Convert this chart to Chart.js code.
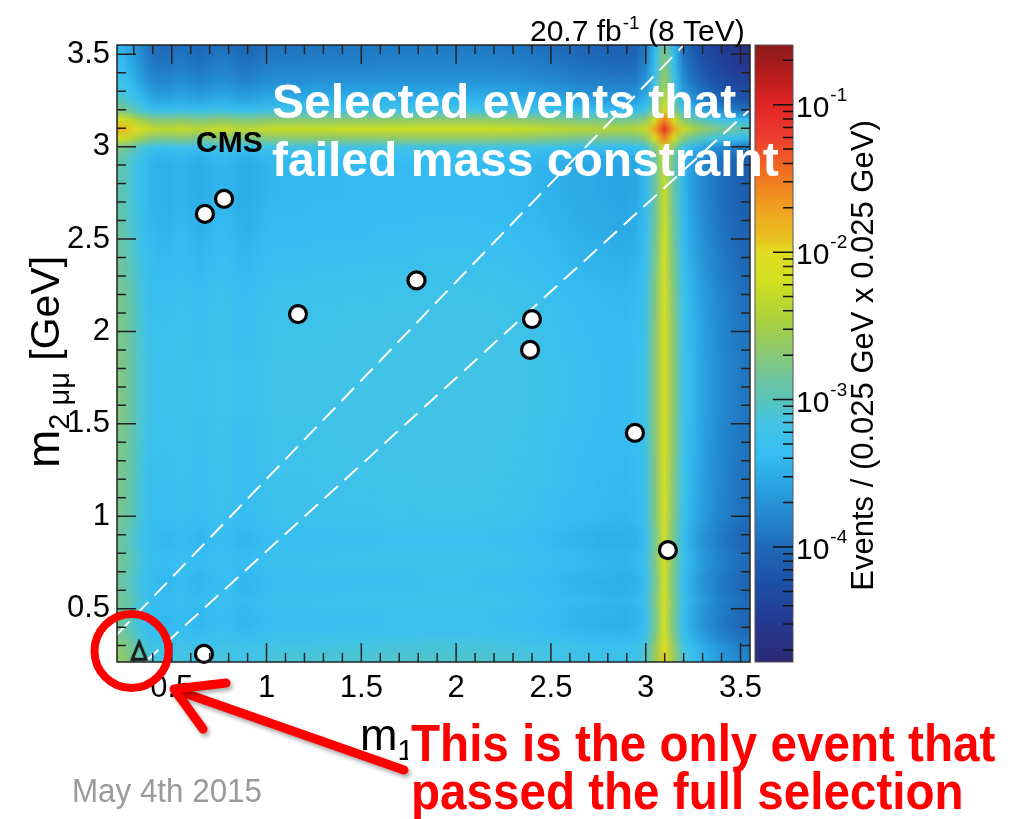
<!DOCTYPE html>
<html>
<head>
<meta charset="utf-8">
<script src="https://cdn.jsdelivr.net/npm/chart.js@4.4.1/dist/chart.umd.min.js"></script>
<style>
  html, body { margin: 0; padding: 0; background: #ffffff; }
  #wrap { position: relative; width: 1013px; height: 819px; }
</style>
</head>
<body>
<div id="wrap"><canvas id="c" width="1013" height="819"></canvas></div>
<script>
// ---- axis ranges and ticks (dimuon masses, GeV) ----
const massMin = 0.2113;
const massMax = 3.55;
const massTicks = [0.5, 1, 1.5, 2, 2.5, 3, 3.5];
const massMinorTicks = [];
for (let k = 3; k <= 35; k++) massMinorTicks.push(k / 10);

// ---- colour scale (events per bin) ----
const zMin = Math.pow(10, -4.78);
const zMax = Math.pow(10, -0.595);
const zMajorTicks = [1e-4, 1e-3, 1e-2, 1e-1];
const zMajorExponents = ['-4', '-3', '-2', '-1'];

// ---- background template, log10 of the 1D shape, 0.05 GeV bins ----
const binStart = 0.172;
const binWidth = 0.05;
// m1 (x) shape, bin centres 0.197 ... 3.547
const templateM1Log = [
  -1.10, -1.16, -1.32, -1.50, -1.64, -1.67, -1.66, -1.62, -1.66, -1.69,
  -1.65, -1.61, -1.62, -1.67, -1.69, -1.66, -1.62, -1.60, -1.60, -1.60,
  -1.60, -1.59, -1.59, -1.59, -1.58, -1.58, -1.58, -1.58, -1.57, -1.57,
  -1.57, -1.57, -1.56, -1.56, -1.56, -1.56, -1.56, -1.56, -1.56, -1.57,
  -1.57, -1.58, -1.59, -1.60, -1.61, -1.63, -1.65, -1.67, -1.69, -1.71,
  -1.72, -1.73, -1.74, -1.75, -1.75, -1.72, -1.58, -1.08, -0.45, -1.08,
  -1.60, -1.80, -1.94, -2.05, -2.14, -2.21, -2.27, -2.31
];
// m2 (y) shape, same binning
const templateM2Log = [
  -1.50, -1.52, -1.56, -1.66, -1.73, -1.74, -1.72, -1.69, -1.73, -1.75,
  -1.72, -1.69, -1.70, -1.74, -1.74, -1.71, -1.68, -1.67, -1.67, -1.66,
  -1.66, -1.65, -1.65, -1.64, -1.64, -1.63, -1.63, -1.62, -1.62, -1.62,
  -1.62, -1.62, -1.62, -1.62, -1.63, -1.63, -1.64, -1.64, -1.65, -1.66,
  -1.67, -1.68, -1.70, -1.72, -1.73, -1.75, -1.76, -1.78, -1.79, -1.80,
  -1.81, -1.82, -1.82, -1.82, -1.82, -1.78, -1.62, -1.08, -0.66, -1.08,
  -1.62, -1.86, -2.00, -2.10, -2.18, -2.24, -2.29, -2.33
];

// ---- selected events ----
const failedM1 = [0.675, 0.776, 1.166, 1.791, 2.400, 2.390, 2.943, 3.117, 0.670];
const failedM2 = [2.636, 2.717, 2.094, 2.276, 2.067, 1.900, 1.451, 0.817, 0.255];
const passedM1 = [0.328];
const passedM2 = [0.272];

// ---- signal corridor |m1 - m2| < 0.13 + 0.065 (m1 + m2)/2 ----
const corridorUpperM1 = [0.2113, 3.285];
const corridorUpperM2 = [0.360, 3.640];
const corridorLowerM1 = [0.360, 3.550];
const corridorLowerM2 = [0.2113, 3.2006];

// ---- colour palette (log10 of bin content -> colour) ----
const paletteLog = [-4.78, -4.5, -4.24, -4.0, -3.83, -3.56, -3.37, -3.15, -3.0, -2.9,
                    -2.7, -2.48, -2.2, -2.0, -1.9, -1.7, -1.46, -1.24, -1.0, -0.8, -0.595];
const paletteHex = ['#2b2a76', '#253a92', '#1c50a8', '#1e6ab8', '#2282ca', '#2aa6e4', '#36bef2',
                    '#44c4e4', '#58c4b8', '#68c4a8', '#88c878', '#a8d040', '#d0e020', '#e2dc20',
                    '#e8c020', '#f0a020', '#f07020', '#ee4030', '#e02424', '#b81c1c', '#8a1a1a'];

const FONT = "'Liberation Sans', Arial, Helvetica, sans-serif";

function hexRgb(h) {
  return [parseInt(h.slice(1, 3), 16), parseInt(h.slice(3, 5), 16), parseInt(h.slice(5, 7), 16)];
}
const paletteRgb = paletteHex.map(hexRgb);

function paletteColor(v) {
  if (v <= paletteLog[0]) return paletteRgb[0];
  const last = paletteLog.length - 1;
  if (v >= paletteLog[last]) return paletteRgb[last];
  for (let i = 0; i < last; i++) {
    if (v <= paletteLog[i + 1]) {
      const t = (v - paletteLog[i]) / (paletteLog[i + 1] - paletteLog[i]);
      const a = paletteRgb[i], b = paletteRgb[i + 1];
      return [a[0] + (b[0] - a[0]) * t, a[1] + (b[1] - a[1]) * t, a[2] + (b[2] - a[2]) * t];
    }
  }
  return paletteRgb[last];
}

// open triangle marker for the event passing the full selection
function triangleMarker() {
  const c = document.createElement('canvas');
  c.width = 20; c.height = 24;
  const g = c.getContext('2d');
  g.strokeStyle = '#1a1a1a';
  g.lineWidth = 3;
  g.lineJoin = 'miter';
  g.beginPath();
  g.moveTo(10, 3.5);
  g.lineTo(3, 20.5);
  g.lineTo(17, 20.5);
  g.closePath();
  g.stroke();
  return c;
}

// smooth 2D background drawn from the two 1D shapes
const heatmapPlugin = {
  id: 'heatmap',
  beforeDatasetsDraw(chart) {
    const { ctx, chartArea: a, scales: { x, y } } = chart;
    const n1 = templateM1Log.length, n2 = templateM2Log.length;
    const off = document.createElement('canvas');
    off.width = n1; off.height = n2;
    const octx = off.getContext('2d');
    const img = octx.createImageData(n1, n2);
    for (let r = 0; r < n2; r++) {
      const ly = templateM2Log[n2 - 1 - r];
      for (let i = 0; i < n1; i++) {
        const c = paletteColor(templateM1Log[i] + ly);
        const p = (r * n1 + i) * 4;
        img.data[p] = c[0]; img.data[p + 1] = c[1]; img.data[p + 2] = c[2]; img.data[p + 3] = 255;
      }
    }
    octx.putImageData(img, 0, 0);
    const x0 = x.getPixelForValue(binStart);
    const x1 = x.getPixelForValue(binStart + n1 * binWidth);
    const yT = y.getPixelForValue(binStart + n2 * binWidth);
    const yB = y.getPixelForValue(binStart);
    ctx.save();
    ctx.beginPath();
    ctx.rect(a.left, a.top, a.right - a.left, a.bottom - a.top);
    ctx.clip();
    ctx.imageSmoothingEnabled = true;
    ctx.drawImage(off, x0, yT, x1 - x0, yB - yT);
    ctx.restore();
  }
};

// frame, inward ticks, colour bar, titles and slide annotations
const decorPlugin = {
  id: 'decor',
  afterDatasetsDraw(chart) {
    const { ctx, chartArea: a, scales: { x, y, z } } = chart;
    ctx.save();
    // frame
    ctx.strokeStyle = '#222';
    ctx.lineWidth = 1.5;
    ctx.strokeRect(a.left, a.top, a.right - a.left, a.bottom - a.top);
    // inward ticks on all four sides
    ctx.lineWidth = 1.5;
    ctx.beginPath();
    massMinorTicks.forEach(v => {
      const major = massTicks.some(t => Math.abs(t - v) < 1e-6);
      const len = major ? 19 : 9;
      const px = x.getPixelForValue(v), py = y.getPixelForValue(v);
      ctx.moveTo(px, a.bottom); ctx.lineTo(px, a.bottom - len);
      ctx.moveTo(px, a.top); ctx.lineTo(px, a.top + len);
      ctx.moveTo(a.left, py); ctx.lineTo(a.left + len, py);
      ctx.moveTo(a.right, py); ctx.lineTo(a.right - len, py);
    });
    ctx.stroke();

    // colour bar
    const bx0 = a.right + 5, bx1 = a.right + 43;
    const grad = ctx.createLinearGradient(0, z.bottom, 0, z.top);
    paletteLog.forEach((lv, i) => {
      const t = (z.bottom - z.getPixelForValue(Math.pow(10, lv))) / (z.bottom - z.top);
      grad.addColorStop(Math.min(1, Math.max(0, t)), paletteHex[i]);
    });
    ctx.fillStyle = grad;
    ctx.fillRect(bx0, z.top, bx1 - bx0, z.bottom - z.top);
    ctx.strokeStyle = '#555';
    ctx.lineWidth = 1;
    ctx.strokeRect(bx0, z.top, bx1 - bx0, z.bottom - z.top);
    ctx.strokeStyle = '#111';
    ctx.lineWidth = 1.5;
    ctx.beginPath();
    for (let e = -5; e <= -1; e++) {
      for (let m = 1; m <= 9; m++) {
        const v = m * Math.pow(10, e);
        if (v < zMin || v > zMax) continue;
        const py = z.getPixelForValue(v);
        const len = m === 1 ? 20 : 10;
        ctx.moveTo(bx1, py); ctx.lineTo(bx1 - len, py);
      }
    }
    ctx.stroke();
    ctx.fillStyle = '#000';
    ctx.textBaseline = 'alphabetic';
    ctx.textAlign = 'left';
    zMajorTicks.forEach((v, i) => {
      const py = z.getPixelForValue(v);
      ctx.font = '30px ' + FONT;
      ctx.fillText('10', bx1 + 3, py + 12);
      const w = ctx.measureText('10').width;
      ctx.font = '19px ' + FONT;
      ctx.fillText(zMajorExponents[i], bx1 + 3 + w + 1, py - 4);
    });
    // colour bar title
    ctx.save();
    ctx.translate(873, (z.top + z.bottom) / 2 + 2);
    ctx.rotate(-Math.PI / 2);
    ctx.textAlign = 'center';
    ctx.font = '31px ' + FONT;
    ctx.fillText('Events / (0.025 GeV x 0.025 GeV)', 0, 0);
    ctx.restore();

    // y axis title  m_{2 mu mu} [GeV]
    ctx.save();
    ctx.translate(59, 362);
    ctx.rotate(-Math.PI / 2);
    const yParts = [['m', 46, 0], ['2 \u03bc\u03bc', 29, 10], [' [GeV]', 41, 0]];
    let total = 0;
    yParts.forEach(p => { ctx.font = p[1] + 'px ' + FONT; total += ctx.measureText(p[0]).width; });
    let cx = -total / 2;
    ctx.textAlign = 'left';
    yParts.forEach(p => {
      ctx.font = p[1] + 'px ' + FONT;
      ctx.fillText(p[0], cx, p[2]);
      cx += ctx.measureText(p[0]).width;
    });
    ctx.restore();

    // x axis title  m_{1 mu mu} [GeV]
    const xParts = [['m', 45, 0], ['1 \u03bc\u03bc', 29, 10], [' [GeV]', 43, 0]];
    let xx = 360;
    xParts.forEach(p => {
      ctx.font = p[1] + 'px ' + FONT;
      ctx.fillText(p[0], xx, 750 + p[2]);
      xx += ctx.measureText(p[0]).width;
    });

    // luminosity label
    ctx.font = '30px ' + FONT;
    let lx = 530;
    ctx.fillText('20.7 fb', lx, 41);
    lx += ctx.measureText('20.7 fb').width;
    ctx.font = '19px ' + FONT;
    ctx.fillText('-1', lx + 1, 29);
    lx += ctx.measureText('-1').width + 1;
    ctx.font = '30px ' + FONT;
    ctx.fillText(' (8 TeV)', lx, 41);

    // CMS label
    ctx.font = 'bold 30px ' + FONT;
    ctx.fillText('CMS', 196, 152);

    // white annotation
    ctx.fillStyle = '#ffffff';
    ctx.font = 'bold 48px ' + FONT;
    ctx.fillText('Selected events that', 272, 118);
    ctx.fillText('failed mass constraint', 272, 176);

    // red annotation box and text
    ctx.fillStyle = '#ffffff';
    ctx.fillRect(408, 712, 605, 107);
    ctx.fillStyle = '#fe0000';
    ctx.save();
    ctx.translate(411, 0);
    ctx.scale(0.915, 1);
    ctx.font = 'bold 52px ' + FONT;
    ctx.fillText('This is the only event that', 0, 761);
    ctx.fillText('passed the full selection', 0, 809);
    ctx.restore();

    // red circle and arrow
    ctx.save();
    ctx.shadowColor = 'rgba(0,0,0,0.35)';
    ctx.shadowBlur = 4;
    ctx.shadowOffsetX = 2;
    ctx.shadowOffsetY = 3;
    ctx.strokeStyle = '#fe0000';
    ctx.lineCap = 'round';
    ctx.lineJoin = 'round';
    ctx.lineWidth = 9;
    ctx.beginPath();
    ctx.moveTo(404, 770);
    ctx.lineTo(176, 690);
    ctx.stroke();
    ctx.beginPath();
    ctx.moveTo(226, 683);
    ctx.lineTo(174, 689);
    ctx.lineTo(203, 729);
    ctx.stroke();
    ctx.restore();
    ctx.save();
    ctx.strokeStyle = '#fe0000';
    ctx.lineWidth = 8;
    ctx.beginPath();
    ctx.arc(131.5, 651, 37, 0, Math.PI * 2);
    ctx.stroke();
    ctx.restore();

    // slide footer
    ctx.save();
    ctx.fillStyle = '#9a9a9a';
    ctx.translate(72, 0);
    ctx.scale(0.95, 1);
    ctx.font = '33px ' + FONT;
    ctx.fillText('May 4th 2015', 0, 802);
    ctx.restore();
    ctx.restore();
  }
};

const pt = (xs, ys) => xs.map((v, i) => ({ x: v, y: ys[i] }));

new Chart(document.getElementById('c'), {
  type: 'scatter',
  data: {
    datasets: [
      {
        type: 'line', data: pt(corridorUpperM1, corridorUpperM2), showLine: true,
        borderColor: '#ffffff', borderWidth: 2, borderDash: [18, 9], pointRadius: 0,
        fill: false, clip: false, order: 3
      },
      {
        type: 'line', data: pt(corridorLowerM1, corridorLowerM2), showLine: true,
        borderColor: '#ffffff', borderWidth: 2, borderDash: [18, 9], pointRadius: 0,
        fill: false, order: 3
      },
      {
        data: pt(failedM1, failedM2), pointRadius: 8.5, pointHoverRadius: 8.5,
        backgroundColor: '#ffffff', borderColor: '#000000', borderWidth: 3.2,
        clip: false, order: 1
      },
      {
        data: pt(passedM1, passedM2), pointStyle: triangleMarker(), pointRadius: 10,
        clip: false, order: 1
      }
    ]
  },
  options: {
    responsive: false,
    animation: false,
    devicePixelRatio: 1,
    layout: { padding: { top: 45, left: 0, right: 0, bottom: 0 } },
    plugins: { legend: { display: false }, tooltip: { enabled: false } },
    events: [],
    scales: {
      x: {
        type: 'linear', position: 'bottom', min: massMin, max: massMax,
        grid: { display: false, drawTicks: false }, border: { display: false },
        afterBuildTicks: s => { s.ticks = massTicks.map(v => ({ value: v })); },
        afterFit: s => { s.height = 157; },
        ticks: {
          autoSkip: false, maxRotation: 0, padding: 8, color: '#000',
          font: { family: FONT, size: 31 }, callback: v => String(v)
        }
      },
      y: {
        type: 'linear', position: 'left', min: massMin, max: massMax,
        grid: { display: false, drawTicks: false }, border: { display: false },
        afterBuildTicks: s => { s.ticks = massTicks.map(v => ({ value: v })); },
        afterFit: s => { s.width = 117; },
        ticks: {
          autoSkip: false, padding: 7, color: '#000',
          font: { family: FONT, size: 31 }, callback: v => String(v)
        }
      },
      z: {
        type: 'logarithmic', position: 'right', min: zMin, max: zMax,
        grid: { display: false, drawTicks: false }, border: { display: false },
        ticks: { display: false },
        afterFit: s => { s.width = 263; }
      }
    }
  },
  plugins: [heatmapPlugin, decorPlugin]
});
</script>
</body>
</html>
